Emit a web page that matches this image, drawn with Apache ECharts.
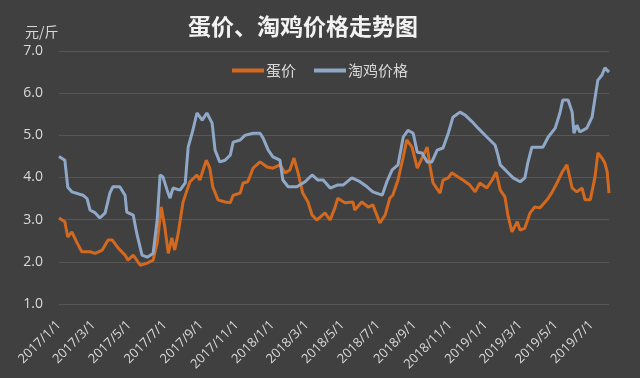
<!DOCTYPE html>
<html>
<head>
<meta charset="utf-8">
<script src="https://cdn.jsdelivr.net/npm/echarts@6/dist/echarts.min.js"></script>
<style>
  html, body { margin: 0; padding: 0; background: #404040; }
  #chart { width: 640px; height: 378px; }
</style>
</head>
<body>
<div id="chart"></div>
<script>
// 淘鸡价格
var chickenDates = ['2017-01-01', '2017-01-11', '2017-01-16', '2017-01-23', '2017-02-11', '2017-02-18', '2017-02-23', '2017-03-04', '2017-03-12', '2017-03-21',
    '2017-03-29', '2017-04-03', '2017-04-15', '2017-04-24', '2017-04-27', '2017-05-08', '2017-05-14', '2017-05-23', '2017-06-01', '2017-06-11',
    '2017-06-18', '2017-06-23', '2017-06-28', '2017-07-05', '2017-07-10', '2017-07-15', '2017-07-27', '2017-08-05', '2017-08-10', '2017-08-18',
    '2017-08-25', '2017-09-03', '2017-09-11', '2017-09-20', '2017-09-25', '2017-10-03', '2017-10-12', '2017-10-21', '2017-10-26', '2017-11-07',
    '2017-11-15', '2017-11-29', '2017-12-11', '2017-12-16', '2017-12-25', '2018-01-02', '2018-01-14', '2018-01-19', '2018-01-28', '2018-02-12',
    '2018-02-26', '2018-03-10', '2018-03-20', '2018-03-29', '2018-04-10', '2018-04-22', '2018-05-02', '2018-05-17', '2018-05-31', '2018-06-12',
    '2018-06-22', '2018-07-08', '2018-07-16', '2018-07-25', '2018-08-04', '2018-08-13', '2018-08-21', '2018-08-30', '2018-09-06', '2018-09-14',
    '2018-09-23', '2018-10-01', '2018-10-10', '2018-10-20', '2018-10-29', '2018-11-06', '2018-11-18', '2018-11-27', '2018-12-09', '2018-12-19',
    '2019-01-03', '2019-01-17', '2019-01-22', '2019-01-26', '2019-02-07', '2019-02-17', '2019-03-01', '2019-03-09', '2019-03-14', '2019-03-21',
    '2019-03-30', '2019-04-09', '2019-04-18', '2019-04-30', '2019-05-08', '2019-05-13', '2019-05-22', '2019-05-29', '2019-06-01', '2019-06-06',
    '2019-06-11', '2019-06-23', '2019-07-02', '2019-07-07', '2019-07-12', '2019-07-19', '2019-07-24', '2019-07-31'];
var chickenPrice = [4.50, 4.41, 3.77, 3.66, 3.58, 3.50, 3.23, 3.16, 3.04, 3.16,
    3.63, 3.78, 3.78, 3.58, 3.18, 3.11, 2.68, 2.16, 2.11, 2.20,
    2.99, 4.06, 4.01, 3.70, 3.51, 3.75, 3.70, 3.87, 4.72, 5.12,
    5.53, 5.36, 5.53, 5.29, 4.65, 4.37, 4.41, 4.53, 4.84, 4.89,
    5.00, 5.05, 5.05, 4.94, 4.65, 4.49, 4.41, 3.94, 3.78, 3.78,
    3.90, 4.06, 3.94, 3.94, 3.75, 3.82, 3.82, 3.99, 3.90, 3.78,
    3.66, 3.58, 3.90, 4.18, 4.30, 4.96, 5.12, 5.05, 4.60, 4.58,
    4.37, 4.37, 4.65, 4.70, 5.05, 5.43, 5.55, 5.48, 5.32, 5.17,
    4.96, 4.77, 4.53, 4.30, 4.13, 3.99, 3.90, 3.99, 4.34, 4.72,
    4.72, 4.72, 4.96, 5.17, 5.53, 5.84, 5.84, 5.55, 5.05, 5.24,
    5.08, 5.17, 5.43, 5.88, 6.31, 6.43, 6.60, 6.50];

// 蛋价
var eggDates = ['2017-01-01', '2017-01-11', '2017-01-16', '2017-01-23', '2017-02-01', '2017-02-09', '2017-02-23', '2017-03-04', '2017-03-16', '2017-03-26',
    '2017-04-02', '2017-04-12', '2017-04-24', '2017-04-29', '2017-05-08', '2017-05-20', '2017-06-01', '2017-06-11', '2017-06-18', '2017-06-25',
    '2017-07-01', '2017-07-07', '2017-07-13', '2017-07-18', '2017-07-24', '2017-08-01', '2017-08-08', '2017-08-13', '2017-08-25', '2017-08-30',
    '2017-09-10', '2017-09-16', '2017-09-21', '2017-09-30', '2017-10-12', '2017-10-21', '2017-10-26', '2017-11-07', '2017-11-12', '2017-11-20',
    '2017-11-29', '2017-12-11', '2017-12-23', '2018-01-02', '2018-01-14', '2018-01-23', '2018-01-31', '2018-02-07', '2018-02-14', '2018-02-22',
    '2018-03-03', '2018-03-10', '2018-03-18', '2018-04-01', '2018-04-10', '2018-04-18', '2018-04-23', '2018-05-05', '2018-05-19', '2018-05-22',
    '2018-06-03', '2018-06-14', '2018-06-22', '2018-07-04', '2018-07-13', '2018-07-21', '2018-07-26', '2018-08-04', '2018-08-13', '2018-08-19',
    '2018-08-28', '2018-09-06', '2018-09-14', '2018-09-23', '2018-09-28', '2018-10-03', '2018-10-15', '2018-10-20', '2018-10-29', '2018-11-04',
    '2018-11-15', '2018-11-23', '2018-12-05', '2018-12-14', '2018-12-22', '2019-01-03', '2019-01-12', '2019-01-19', '2019-01-26', '2019-02-03',
    '2019-02-08', '2019-02-15', '2019-02-24', '2019-03-01', '2019-03-09', '2019-03-18', '2019-03-26', '2019-04-04', '2019-04-16', '2019-04-25',
    '2019-05-03', '2019-05-12', '2019-05-20', '2019-05-29', '2019-06-06', '2019-06-15', '2019-06-20', '2019-06-29', '2019-07-07', '2019-07-12',
    '2019-07-19', '2019-07-24', '2019-07-28', '2019-07-31'];
var eggPrice = [3.04, 2.95, 2.59, 2.71, 2.45, 2.24, 2.24, 2.20, 2.28, 2.52,
    2.52, 2.33, 2.16, 2.04, 2.16, 1.92, 1.97, 2.04, 2.45, 3.30,
    2.83, 2.20, 2.57, 2.28, 2.68, 3.40, 3.70, 3.90, 4.06, 3.94,
    4.41, 4.22, 3.78, 3.47, 3.42, 3.40, 3.58, 3.63, 3.87, 3.90,
    4.22, 4.37, 4.25, 4.22, 4.30, 4.11, 4.18, 4.46, 4.11, 3.63,
    3.42, 3.11, 2.99, 3.16, 2.99, 3.28, 3.51, 3.40, 3.42, 3.23,
    3.42, 3.30, 3.35, 2.92, 3.11, 3.51, 3.58, 3.94, 4.49, 4.89,
    4.72, 4.22, 4.46, 4.72, 4.25, 3.87, 3.63, 3.94, 3.99, 4.11,
    4.01, 3.94, 3.82, 3.66, 3.87, 3.75, 3.94, 4.13, 3.70, 3.54,
    3.11, 2.71, 2.95, 2.75, 2.80, 3.16, 3.30, 3.28, 3.47, 3.66,
    3.87, 4.13, 4.30, 3.75, 3.66, 3.75, 3.47, 3.47, 4.01, 4.58,
    4.46, 4.34, 4.13, 3.63];

var tickLabels = ['2017/1/1', '2017/3/1', '2017/5/1', '2017/7/1', '2017/9/1', '2017/11/1',
    '2018/1/1', '2018/3/1', '2018/5/1', '2018/7/1', '2018/9/1', '2018/11/1',
    '2019/1/1', '2019/3/1', '2019/5/1', '2019/7/1'];

// 以2017/1/1为第0天，按天数画在数值轴上
function toDay(s) {
    var p = s.split(/[-\/]/);
    return Math.round((Date.UTC(+p[0], +p[1] - 1, +p[2]) - Date.UTC(2017, 0, 1)) / 86400000);
}

function pairs(dates, vals) {
    var out = [];
    for (var i = 0; i < dates.length; i++) {
        out.push([toDay(dates[i]), vals[i]]);
    }
    return out;
}

var tickDays = tickLabels.map(toDay);

var myChart = echarts.init(document.getElementById('chart'));

var option = {
    backgroundColor: '#404040',
    animation: false,
    title: {
        text: '蛋价、淘鸡价格走势图',
        left: 298,
        textAlign: 'center',
        top: 10,
        textStyle: {
            color: '#F2F2F2',
            fontSize: 23,
            fontWeight: 'bold',
            fontFamily: 'Noto Sans CJK SC'
        }
    },
    legend: {
        top: 58,
        left: 'center',
        itemWidth: 32,
        itemHeight: 4,
        itemGap: 18,
        icon: 'rect',
        textStyle: { color: '#D9D9D9', fontSize: 15, fontFamily: 'Noto Sans CJK SC', padding: [0, 0, 0, -3] },
        data: ['蛋价', '淘鸡价格']
    },
    grid: {
        left: 59,
        right: 31,
        top: 51,
        bottom: 74
    },
    xAxis: {
        type: 'value',
        min: toDay('2017-01-01'),
        max: toDay('2019-07-31'),
        axisLine: { show: false },
        axisTick: { show: false },
        splitLine: { show: false },
        axisLabel: {
            customValues: tickDays,
            rotate: 45,
            color: '#D9D9D9',
            fontSize: 13,
            fontFamily: 'Open Sans',
            margin: 19,
            hideOverlap: false,
            showMinLabel: true,
            showMaxLabel: true,
            formatter: function (val) {
                var i = tickDays.indexOf(val);
                return i >= 0 ? tickLabels[i] : '';
            }
        }
    },
    yAxis: {
        type: 'value',
        name: '元/斤',
        nameLocation: 'end',
        nameGap: 12,
        nameTextStyle: { color: '#D9D9D9', fontSize: 14, fontFamily: 'Noto Sans CJK SC', align: 'left', padding: [0, 0, 0, -34] },
        min: 1,
        max: 7,
        interval: 1,
        axisLine: { show: false },
        axisTick: { show: false },
        axisLabel: {
            color: '#D9D9D9',
            fontSize: 14,
            fontFamily: 'Open Sans',
            margin: 16,
            formatter: function (v) { return v.toFixed(1); }
        },
        splitLine: { lineStyle: { color: '#575757', width: 1 } }
    },
    series: [{
        name: '蛋价',
        type: 'line',
        showSymbol: false,
        symbol: 'none',
        data: pairs(eggDates, eggPrice),
        color: '#D2691E',
        lineStyle: { width: 3, color: '#D2691E' }
    }, {
        name: '淘鸡价格',
        type: 'line',
        showSymbol: false,
        symbol: 'none',
        data: pairs(chickenDates, chickenPrice),
        color: '#8FA8C8',
        lineStyle: { width: 3, color: '#8FA8C8' }
    }]
};

myChart.setOption(option);
</script>
</body>
</html>
